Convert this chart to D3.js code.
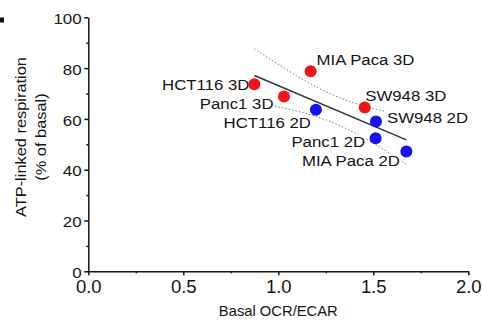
<!DOCTYPE html>
<html>
<head>
<meta charset="utf-8">
<script src="https://cdn.jsdelivr.net/npm/d3@7/dist/d3.min.js"></script>
<style>
  body { margin: 0; background: #fff; }
  svg { display: block; font-family: 'Liberation Sans', Arial, sans-serif; }
</style>
</head>
<body>
<div id="chart"></div>
<script>
// Values
const cellLines = ['HCT116 3D', 'Panc1 3D', 'MIA Paca 3D', 'SW948 3D', 'HCT116 2D', 'SW948 2D', 'Panc1 2D', 'MIA Paca 2D'];
const culture = ['3D', '3D', '3D', '3D', '2D', '2D', '2D', '2D'];
const basalOcrEcar = [0.874, 1.03, 1.17, 1.455, 1.198, 1.514, 1.512, 1.674];
const atpLinked = [73.6, 68.8, 78.8, 64.5, 63.6, 59.0, 52.4, 47.2];

const xTicks = [0, 0.5, 1.0, 1.5, 2.0];
const xMinorTicks = [0.25, 0.75, 1.25, 1.75];
const yTicks = [0, 20, 40, 60, 80, 100];
const yMinorTicks = [10, 30, 50, 70, 90];

// where each label sits relative to its dot: [dx, dy, anchor]
const labelPlacement = {
  'HCT116 3D': [-5, 5.5, 'end'],
  'Panc1 3D': [-10.5, 12.5, 'end'],
  'MIA Paca 3D': [6, -6, 'start'],
  'SW948 3D': [0.5, -6.5, 'start'],
  'HCT116 2D': [-5, 18.5, 'end'],
  'SW948 2D': [11, 1.8, 'start'],
  'Panc1 2D': [-10.5, 8.5, 'end'],
  'MIA Paca 2D': [-6.5, 15, 'end']
};

const width = 483;
const height = 323;
const colors = { '3D': '#f01414', '2D': '#1414f0' };
const ink = '#151515';

const svg = d3.select('#chart')
  .append('svg')
    .attr('width', width)
    .attr('height', height);

svg.append('rect')
  .attr('width', width)
  .attr('height', height)
  .attr('fill', '#fff');

// cut-off panel letter at the left edge
svg.append('rect')
  .attr('x', 0).attr('y', 17.5)
  .attr('width', 4).attr('height', 5)
  .attr('fill', '#111');

const x = d3.scaleLinear().domain([0, 2]).range([88.3, 468.3]);
const y = d3.scaleLinear().domain([0, 100]).range([271.3, 17.3]);

// Axes
const xAxis = svg.append('g')
  .attr('transform', 'translate(0,' + y(0) + ')')
  .call(d3.axisBottom(x).tickValues(xTicks).tickSize(4).tickSizeOuter(0)
    .tickFormat(d3.format('.1f')));
svg.append('g')
  .attr('transform', 'translate(0,' + y(0) + ')')
  .call(d3.axisBottom(x).tickValues(xMinorTicks).tickSize(2).tickFormat(''))
  .call(g => g.select('.domain').remove());

const yAxis = svg.append('g')
  .attr('transform', 'translate(' + x(0) + ',0)')
  .call(d3.axisLeft(y).tickValues(yTicks).tickSize(4).tickSizeOuter(0));
svg.append('g')
  .attr('transform', 'translate(' + x(0) + ',0)')
  .call(d3.axisLeft(y).tickValues(yMinorTicks).tickSize(2).tickFormat(''))
  .call(g => g.select('.domain').remove());

svg.selectAll('.domain, .tick line')
  .attr('stroke', ink)
  .attr('stroke-width', 1.5);

xAxis.selectAll('.tick text')
  .attr('fill', ink)
  .attr('font-size', 18.5)
  .attr('font-family', 'Liberation Sans, Arial, sans-serif')
  .attr('y', 21.4)
  .attr('dy', 0);

const yStretch = 1.13;
yAxis.selectAll('.tick text')
  .attr('fill', ink)
  .attr('font-size', 15)
  .attr('font-family', 'Liberation Sans, Arial, sans-serif')
  .attr('x', -6.6 / yStretch)
  .attr('dy', 6.1)
  .attr('transform', 'scale(' + yStretch + ',1)');

// Axis titles
svg.append('text')
  .attr('transform', 'translate(278.3,316) scale(1.055,1)')
  .attr('text-anchor', 'middle')
  .attr('font-size', 14)
  .attr('fill', ink)
  .text('Basal OCR/ECAR');

const yTitle = [['ATP-linked respiration', 25.5], ['(% of basal)', 45.5]];
yTitle.forEach(([t, bx]) => {
  svg.append('text')
    .attr('transform', 'translate(' + bx + ',137) rotate(-90) scale(1.13,1)')
    .attr('text-anchor', 'middle')
    .attr('font-size', 14.5)
    .attr('fill', ink)
    .text(t);
});

// Linear regression with 95% confidence band
const n = basalOcrEcar.length;
const mx = d3.mean(basalOcrEcar);
const my = d3.mean(atpLinked);
const sxx = d3.sum(basalOcrEcar, v => (v - mx) ** 2);
const sxy = d3.sum(basalOcrEcar, (v, i) => (v - mx) * (atpLinked[i] - my));
const slope = sxy / sxx;
const intercept = my - slope * mx;
const fit = v => intercept + slope * v;
const sse = d3.sum(basalOcrEcar, (v, i) => (atpLinked[i] - fit(v)) ** 2);
const se = Math.sqrt(sse / (n - 2));
const tCrit = 2.447; // t(0.975, df = 6)
const half = v => tCrit * se * Math.sqrt(1 / n + (v - mx) ** 2 / sxx);

const [xMin, xMax] = d3.extent(basalOcrEcar);
const xs = d3.range(41).map(i => xMin + (xMax - xMin) * i / 40);

const line = d3.line().x(d => x(d[0])).y(d => y(d[1]));

svg.append('path')
  .attr('d', line(xs.map(v => [v, fit(v) + half(v)])))
  .attr('fill', 'none')
  .attr('stroke', '#7a7a7a')
  .attr('stroke-width', 1)
  .attr('stroke-dasharray', '1.5,2');
svg.append('path')
  .attr('d', line(xs.map(v => [v, fit(v) - half(v)])))
  .attr('fill', 'none')
  .attr('stroke', '#7a7a7a')
  .attr('stroke-width', 1)
  .attr('stroke-dasharray', '1.5,2');

svg.append('path')
  .attr('d', line([[xMin, fit(xMin)], [xMax, fit(xMax)]]))
  .attr('fill', 'none')
  .attr('stroke', '#333')
  .attr('stroke-width', 1.4);

// Labels (white boxes hide the band where they overlap)
const labelStretch = 1.09;
cellLines.forEach((name, i) => {
  const [dx, dy, anchor] = labelPlacement[name];
  const g = svg.append('g')
    .attr('transform', 'translate(' + (x(basalOcrEcar[i]) + dx) + ',' + (y(atpLinked[i]) + dy) + ') scale(' + labelStretch + ',1)');
  const t = g.append('text')
    .attr('text-anchor', anchor)
    .attr('font-size', 15.4)
    .attr('fill', ink)
    .text(name);
  const b = t.node().getBBox();
  g.insert('rect', 'text')
    .attr('x', b.x - 1).attr('y', b.y + 2)
    .attr('width', b.width + 2).attr('height', b.height - 4)
    .attr('fill', '#fff');
});

// Dots
svg.append('g')
  .selectAll('circle')
  .data(cellLines)
  .join('circle')
    .attr('cx', (d, i) => x(basalOcrEcar[i]))
    .attr('cy', (d, i) => y(atpLinked[i]))
    .attr('r', 6)
    .attr('fill', (d, i) => colors[culture[i]]);
</script>
</body>
</html>
